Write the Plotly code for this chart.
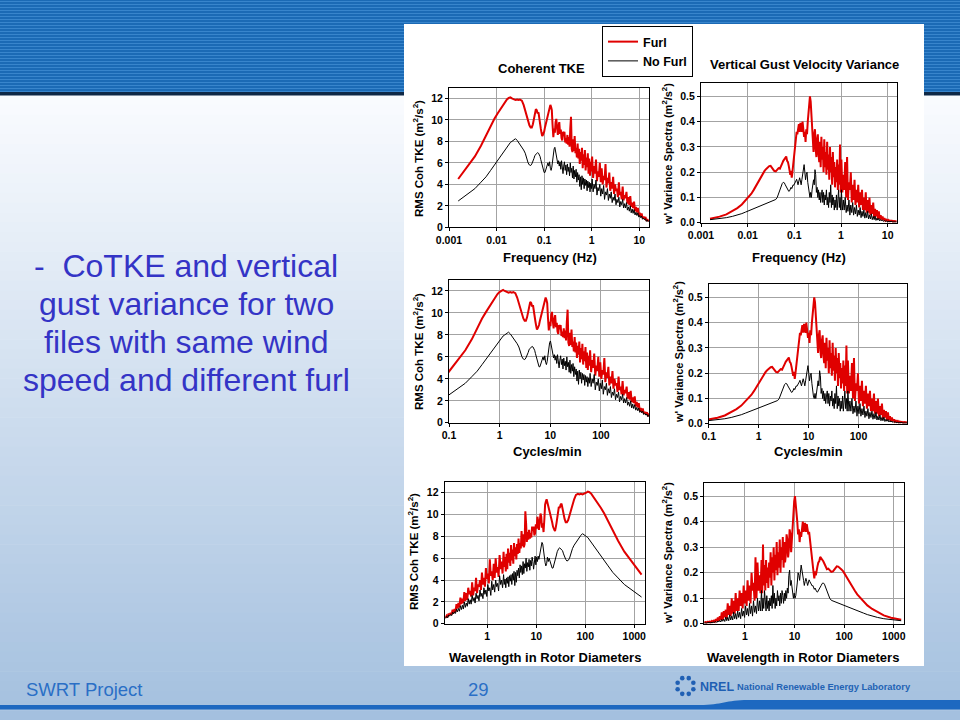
import math
import plotly.graph_objects as go

W, H = 960, 720
FONT = "Liberation Sans"

# ---------------- data ----------------
freq_hz = [
    0.00156, 0.0025, 0.0035, 0.0047, 0.006, 0.0075, 0.009, 0.0105, 0.012, 0.0135,
    0.015, 0.0165, 0.018, 0.0195, 0.021, 0.023, 0.025, 0.027, 0.029, 0.031,
    0.034, 0.037, 0.040, 0.043, 0.046, 0.049, 0.052, 0.055, 0.058, 0.061,
    0.064, 0.067, 0.070, 0.073, 0.076, 0.079, 0.082, 0.085, 0.088, 0.091,
    0.094, 0.097, 0.100,
    0.104, 0.108, 0.112, 0.116, 0.120, 0.125, 0.130, 0.135, 0.140, 0.145,
    0.150, 0.156, 0.162, 0.168, 0.174, 0.180, 0.187, 0.194, 0.201, 0.208,
    0.216, 0.224, 0.232, 0.240, 0.249, 0.258, 0.267, 0.277, 0.287, 0.297,
    0.308, 0.319, 0.330, 0.342, 0.354, 0.367, 0.380, 0.394, 0.408, 0.423,
    0.438, 0.454, 0.470, 0.487, 0.505, 0.523, 0.542, 0.561, 0.581, 0.602,
    0.624, 0.646, 0.669, 0.693, 0.718, 0.744, 0.771, 0.799, 0.827, 0.857,
    0.888, 0.920, 0.953, 0.987,
    1.02, 1.07, 1.12, 1.17, 1.23, 1.29, 1.35, 1.41, 1.48, 1.55,
    1.62, 1.70, 1.78, 1.86, 1.95, 2.04, 2.14, 2.24, 2.34, 2.45,
    2.57, 2.69, 2.82, 2.95, 3.09, 3.24, 3.39, 3.55, 3.72, 3.89,
    4.07, 4.27, 4.47, 4.68, 4.90, 5.13, 5.37, 5.62, 5.89, 6.17,
    6.46, 6.76, 7.08, 7.41, 7.76, 8.13, 8.51, 8.91, 9.33, 9.77,
    10.2, 10.7, 11.2, 11.7, 12.3, 12.9, 13.5, 14.1, 14.8, 15.5,
]

tke_furl = [
    4.5, 5.7, 6.6, 7.6, 8.6, 9.5, 10.1, 10.6, 11.0, 11.4,
    11.7, 11.9, 12.05, 12.1, 12.0, 11.95, 11.85, 11.9, 11.85, 11.9,
    11.8, 11.4, 10.9, 10.3, 9.8, 9.5, 9.3, 9.3, 9.6, 10.0,
    10.6, 11.0, 10.9, 10.6, 10.7, 10.3, 9.8, 9.2, 8.8, 8.5,
    8.6, 8.7, 8.9,
    9.3, 9.6, 10.0, 10.3, 10.7, 11.0, 11.3, 11.4, 11.2, 10.9,
    9.6, 8.4, 9.2, 8.8, 9.8, 10.1, 9.3, 8.6, 9.4, 9.8,
    8.7, 9.1, 8.3, 8.1, 8.9, 8.5, 8.9, 7.9, 8.3, 7.8,
    8.6, 7.7, 8.4, 7.5, 9.2, 10.3, 7.3, 7.0, 8.2, 7.1,
    8.5, 6.9, 7.4, 6.5, 7.8, 6.4, 7.3, 5.9, 7.0, 6.2,
    7.4, 5.5, 6.8, 5.8, 7.2, 5.3, 6.5, 5.6, 6.9, 5.0,
    6.4, 4.8, 6.1, 5.2,
    6.6, 4.6, 5.7, 5.0, 6.3, 4.3, 5.2, 4.7, 6.0, 4.2,
    5.5, 4.0, 4.8, 4.4, 5.9, 3.7, 4.6, 4.1, 5.1, 3.4,
    4.2, 3.6, 4.7, 3.1, 4.0, 3.4, 3.6, 2.8, 4.2, 3.0,
    3.3, 2.6, 3.8, 2.5, 3.0, 2.7, 3.3, 2.2, 2.8, 2.1,
    2.9, 1.9, 2.3, 1.8, 2.4, 1.5, 1.9, 1.4, 1.8, 1.1,
    1.35, 1.0, 1.3, 0.85, 1.0, 0.8, 0.95, 0.62, 0.75, 0.55,
]

tke_nofurl = [
    2.45, 3.1, 3.6, 4.2, 4.7, 5.3, 5.8, 6.2, 6.6, 7.0,
    7.25, 7.5, 7.7, 7.9, 8.0, 8.15, 8.25, 8.1, 7.9, 7.8,
    7.5, 7.2, 6.9, 6.4, 6.0, 5.8, 5.75, 5.9, 6.1, 6.4,
    6.7, 6.8, 6.9, 6.95, 6.9, 6.8, 6.6, 6.3, 6.0, 5.8,
    5.5, 5.25, 5.1,
    5.1, 5.3, 5.6, 5.8, 6.0, 5.7, 6.1, 5.5, 5.3, 5.6,
    6.2, 6.9, 7.3, 7.45, 7.0, 6.6, 6.3, 5.9, 6.2, 5.7,
    6.1, 5.4, 6.2, 5.6, 5.0, 5.7, 6.1, 5.3, 5.8, 4.9,
    5.9, 5.2, 5.6, 4.8, 6.0, 5.1, 5.5, 4.6, 5.7, 4.5,
    5.3, 4.7, 5.4, 4.2, 5.1, 4.4, 4.9, 3.8, 4.7, 3.5,
    4.8, 4.0, 4.6, 3.6, 4.5, 3.9, 4.4, 3.4, 4.3, 3.7,
    4.2, 3.3, 4.1, 3.6,
    4.5, 3.3, 4.0, 3.6, 4.4, 3.0, 3.7, 3.4, 4.0, 2.9,
    3.6, 3.1, 3.9, 2.6, 3.3, 3.0, 3.6, 2.5, 3.1, 2.7,
    3.3, 2.3, 2.8, 2.5, 3.1, 2.1, 2.6, 2.3, 2.8, 1.9,
    2.4, 2.1, 2.6, 1.8, 2.2, 1.8, 2.3, 1.6, 1.9, 1.5,
    2.0, 1.35, 1.7, 1.3, 1.65, 1.15, 1.4, 1.1, 1.35, 0.95,
    1.1, 0.9, 1.05, 0.75, 0.85, 0.7, 0.8, 0.55, 0.68, 0.5,
]

wvar_furl = [
    0.016, 0.024, 0.033, 0.045, 0.058, 0.072, 0.088, 0.1, 0.115, 0.13,
    0.145, 0.16, 0.172, 0.185, 0.195, 0.205, 0.213, 0.22, 0.224, 0.225,
    0.215, 0.205, 0.203, 0.21, 0.216, 0.214, 0.222, 0.235, 0.245, 0.25,
    0.258, 0.262, 0.245, 0.24, 0.225, 0.2, 0.19, 0.205, 0.178, 0.2,
    0.225, 0.24, 0.26,
    0.29, 0.33, 0.36, 0.35, 0.38, 0.39, 0.36, 0.395, 0.38, 0.36,
    0.40, 0.37, 0.34, 0.36, 0.32, 0.37, 0.35, 0.40, 0.43, 0.47,
    0.50, 0.48, 0.43, 0.38, 0.31, 0.28, 0.35, 0.37, 0.29, 0.26,
    0.33, 0.35, 0.27, 0.24, 0.32, 0.22, 0.34, 0.25, 0.30, 0.20,
    0.33, 0.22, 0.28, 0.19, 0.32, 0.21, 0.27, 0.17, 0.30, 0.20,
    0.26, 0.15, 0.28, 0.18, 0.24, 0.14, 0.22, 0.16, 0.25, 0.13,
    0.23, 0.15, 0.31, 0.12,
    0.25, 0.12, 0.19, 0.13, 0.24, 0.10, 0.26, 0.09, 0.16, 0.13,
    0.20, 0.08, 0.15, 0.09, 0.17, 0.07, 0.13, 0.08, 0.15, 0.06,
    0.12, 0.07, 0.13, 0.05, 0.10, 0.05, 0.12, 0.04, 0.09, 0.04,
    0.10, 0.03, 0.07, 0.035, 0.08, 0.02, 0.055, 0.025, 0.05, 0.015,
    0.045, 0.015, 0.03, 0.012, 0.025, 0.01, 0.018, 0.008, 0.012, 0.008,
    0.011, 0.006, 0.009, 0.006, 0.008, 0.005, 0.007, 0.005, 0.006, 0.005,
]

wvar_nofurl = [
    0.012, 0.016, 0.02, 0.025, 0.03, 0.036, 0.042, 0.047, 0.051, 0.055,
    0.058, 0.061, 0.064, 0.067, 0.07, 0.073, 0.076, 0.079, 0.081, 0.083,
    0.086, 0.089, 0.092, 0.1, 0.115, 0.13, 0.145, 0.155, 0.16, 0.158,
    0.15, 0.142, 0.135, 0.128, 0.124, 0.126, 0.133, 0.14, 0.135, 0.145,
    0.15, 0.148, 0.155,
    0.16, 0.165, 0.172, 0.16, 0.15, 0.165, 0.178, 0.165, 0.15, 0.17,
    0.19, 0.215, 0.23, 0.2, 0.17, 0.19, 0.2, 0.16, 0.13, 0.11,
    0.1, 0.12, 0.1, 0.13, 0.16, 0.17, 0.15, 0.21, 0.19, 0.12,
    0.14, 0.1, 0.13, 0.09, 0.12, 0.08, 0.11, 0.13, 0.08, 0.12,
    0.07, 0.11, 0.09, 0.13, 0.07, 0.10, 0.06, 0.12, 0.08, 0.15,
    0.06, 0.11, 0.07, 0.10, 0.05, 0.09, 0.06, 0.11, 0.05, 0.09,
    0.13, 0.06, 0.10, 0.05,
    0.13, 0.05, 0.09, 0.05, 0.10, 0.04, 0.07, 0.045, 0.09, 0.03,
    0.07, 0.04, 0.08, 0.03, 0.06, 0.035, 0.07, 0.025, 0.05, 0.03,
    0.06, 0.02, 0.045, 0.025, 0.05, 0.018, 0.04, 0.02, 0.045, 0.015,
    0.03, 0.015, 0.035, 0.012, 0.025, 0.012, 0.026, 0.009, 0.018, 0.01,
    0.017, 0.007, 0.013, 0.007, 0.011, 0.005, 0.009, 0.006, 0.007, 0.004,
    0.006, 0.004, 0.005, 0.003, 0.005, 0.003, 0.004, 0.003, 0.003, 0.003,
]

SERIES_NAMES = ["Furl", "No Furl"]

SECONDS_PER_MIN = 60.0
WIND_OVER_DIAMETER = 2.2   # U/D (1/s): wavelength in rotor diameters = (U/D)/f

cycles_per_min = [f * SECONDS_PER_MIN for f in freq_hz]
wavelength_d = [WIND_OVER_DIAMETER / f for f in freq_hz]

TKE_TICKS = [0, 2, 4, 6, 8, 10, 12]
W_TICKS = [0.0, 0.1, 0.2, 0.3, 0.4, 0.5]
W_TICK_TEXT = ["0.0", "0.1", "0.2", "0.3", "0.4", "0.5"]
HZ_TICKS = [0.001, 0.01, 0.1, 1, 10]
HZ_TICK_TEXT = ["0.001", "0.01", "0.1", "1", "10"]
CPM_TICKS = [0.1, 1, 10, 100]
CPM_TICK_TEXT = ["0.1", "1", "10", "100"]
WL_TICKS = [1, 10, 100, 1000]
WL_TICK_TEXT = ["1", "10", "100", "1000"]

TKE_TITLE = "RMS Coh TKE (m<sup>2</sup>/s<sup>2</sup>)"
W_TITLE = "w' Variance Spectra (m<sup>2</sup>/s<sup>2</sup>)"

# ---------------- helpers ----------------
def px(x):
    return x / W


def py(y):
    return 1 - y / H


RED = "#e00000"
BLACK = "#000000"
BOLD = dict(family=FONT, color="black", weight="bold")

XSETS = {
    "hz": (freq_hz, HZ_TICKS, HZ_TICK_TEXT, "Frequency (Hz)"),
    "cpm": (cycles_per_min, CPM_TICKS, CPM_TICK_TEXT, "Cycles/min"),
    "wl": (wavelength_d, WL_TICKS, WL_TICK_TEXT, "Wavelength in Rotor Diameters"),
}
QSETS = {
    "tke": (tke_furl, tke_nofurl, TKE_TICKS, [str(t) for t in TKE_TICKS], 13, TKE_TITLE, 11.5),
    "w": (wvar_furl, wvar_nofurl, W_TICKS, W_TICK_TEXT, 0.552, W_TITLE, 11),
}

PANELS = [
    dict(x="hz", q="tke", xd=(449, 649), yd=(87.7, 227.3), xr=(-3.0, 1.204),
         xt=(550, 257), yt=(418, 159)),
    dict(x="hz", q="w", xd=(701, 897), yd=(83.3, 222.7), xr=(-3.0, 1.2),
         xt=(799, 257), yt=(667, 154)),
    dict(x="cpm", q="tke", xd=(449, 649), yd=(280, 422.8), xr=(-1.0, 2.95),
         xt=(547, 451), yt=(418, 352)),
    dict(x="cpm", q="w", xd=(708.7, 907), yd=(284.2, 423.8), xr=(-1.0, 2.97),
         xt=(808, 451), yt=(678, 352)),
    dict(x="wl", q="tke", xd=(444.6, 645), yd=(481.8, 623.8), xr=(-0.87, 3.22),
         xt=(545, 657), yt=(413, 552)),
    dict(x="wl", q="w", xd=(704.3, 903.7), yd=(482.8, 623.8), xr=(-0.82, 3.2),
         xt=(803, 657), yt=(667, 553)),
]

fig = go.Figure()
layout = dict(
    width=W, height=H,
    margin=dict(l=0, r=0, t=0, b=0, pad=0, autoexpand=False),
    paper_bgcolor="white", plot_bgcolor="white",
    showlegend=True,
    legend=dict(
        x=px(602), y=py(26), xanchor="left", yanchor="top",
        bgcolor="white", bordercolor="black", borderwidth=1,
        font=dict(family=FONT, size=12.5, color="black", weight="bold"),
        itemwidth=30, tracegroupgap=0,
    ),
)
annotations = []

for i, p in enumerate(PANELS, start=1):
    xs, xticks, xtext, xtitle = XSETS[p["x"]]
    yf, yn, yticks, ytext, ytop, ytitle, ysize = QSETS[p["q"]]
    sfx = "" if i == 1 else str(i)
    fig.add_trace(go.Scatter(
        x=xs, y=yf, mode="lines", name=SERIES_NAMES[0],
        line=dict(color=RED, width=2), xaxis="x" + sfx, yaxis="y" + sfx,
        showlegend=(i == 1), legendrank=1, hoverinfo="skip"))
    fig.add_trace(go.Scatter(
        x=xs, y=yn, mode="lines", name=SERIES_NAMES[1],
        line=dict(color=BLACK, width=1), xaxis="x" + sfx, yaxis="y" + sfx,
        showlegend=(i == 1), legendrank=2, hoverinfo="skip"))
    common = dict(
        showgrid=True, gridcolor="#a3a3a3", gridwidth=1,
        showline=True, linecolor="black", linewidth=1, mirror=True,
        ticks="outside", ticklen=3, tickcolor="black", zeroline=False,
        tickfont=dict(family=FONT, size=10.5, color="black", weight="bold"),
        fixedrange=True, tickmode="array", automargin=False,
    )
    layout["xaxis" + sfx] = dict(
        common, type="log", range=list(p["xr"]),
        domain=[px(p["xd"][0]), px(p["xd"][1])], anchor="y" + sfx,
        tickvals=xticks, ticktext=xtext)
    layout["yaxis" + sfx] = dict(
        common, range=[0, ytop],
        domain=[py(p["yd"][1]), py(p["yd"][0])], anchor="x" + sfx,
        tickvals=yticks, ticktext=ytext)
    annotations.append(dict(
        text=xtitle, x=px(p["xt"][0]), y=py(p["xt"][1]),
        xref="paper", yref="paper", showarrow=False,
        xanchor="center", yanchor="middle",
        font=dict(BOLD, size=13)))
    annotations.append(dict(
        text=ytitle, x=px(p["yt"][0]), y=py(p["yt"][1]),
        xref="paper", yref="paper", showarrow=False, textangle=-90,
        xanchor="center", yanchor="middle",
        font=dict(BOLD, size=ysize)))

# chart titles
annotations.append(dict(text="Coherent TKE", x=px(541), y=py(68), xref="paper",
                        yref="paper", showarrow=False, xanchor="center",
                        yanchor="middle", font=dict(BOLD, size=13)))
annotations.append(dict(text="Vertical Gust Velocity Variance", x=px(804), y=py(64),
                        xref="paper", yref="paper", showarrow=False,
                        xanchor="center", yanchor="middle",
                        font=dict(BOLD, size=13)))

# slide text
TEXT_BLUE = "#3434c6"
slide_lines = ["-&nbsp; CoTKE and vertical", "gust variance for two",
               "files with same wind", "speed and different furl"]
for k, line in enumerate(slide_lines):
    annotations.append(dict(text=line, x=px(186), y=py(266 + 38 * k), xref="paper",
                            yref="paper", showarrow=False, xanchor="center",
                            yanchor="middle",
                            font=dict(family=FONT, size=32, color=TEXT_BLUE)))

FOOT_BLUE = "#2a6fc6"
annotations.append(dict(text="SWRT Project", x=px(24), y=py(689), xref="paper",
                        yref="paper", showarrow=False, xanchor="left", yanchor="middle",
                        font=dict(family=FONT, size=18.5, color=FOOT_BLUE)))
annotations.append(dict(text="29", x=px(478), y=py(689), xref="paper", yref="paper",
                        showarrow=False, xanchor="center", yanchor="middle",
                        font=dict(family=FONT, size=18.5, color=FOOT_BLUE)))
annotations.append(dict(text="NREL", x=px(698), y=py(687), xref="paper", yref="paper",
                        showarrow=False, xanchor="left", yanchor="middle",
                        font=dict(family=FONT, size=12.5, color="#1f5fb3", weight="bold")))
annotations.append(dict(text="National Renewable Energy Laboratory", x=px(735), y=py(687),
                        xref="paper", yref="paper", showarrow=False, xanchor="left",
                        yanchor="middle",
                        font=dict(family=FONT, size=9.3, color="#2262b4", weight="bold")))

# ---------------- slide decoration (shapes) ----------------
shapes = []


def rect(x0, y0, x1, y1, color):
    shapes.append(dict(type="rect", xref="paper", yref="paper", layer="below",
                       x0=px(x0), x1=px(x1), y0=py(y1), y1=py(y0),
                       fillcolor=color, line=dict(width=0)))


# background gradient (white -> light blue)
top_c, bot_c = (249, 251, 254), (164, 192, 223)
n_strips = 64
g0, g1 = 95, 720
for s in range(n_strips):
    t = s / (n_strips - 1)
    c = tuple(round(top_c[j] + (bot_c[j] - top_c[j]) * t) for j in range(3))
    y0 = g0 + (g1 - g0) * s / n_strips
    y1 = g0 + (g1 - g0) * (s + 1) / n_strips + 0.6
    rect(0, y0, W, y1, "rgb(%d,%d,%d)" % c)

# top striped band
rect(0, 0, W, 92, "rgb(27,106,181)")
for yy in range(1, 92, 3):
    rect(0, yy, W, yy + 1, "rgb(56,133,204)")
rect(0, 92, W, 95.5, "#0e2846")

# white chart panel
rect(404, 24, 924, 666, "white")


# bottom rule with swoosh
def P(x, y):
    return "%.5f,%.5f" % (px(x), py(y))


shapes.append(dict(
    type="path", xref="paper", yref="paper", layer="below",
    path="M %s L %s C %s %s %s L %s L %s L %s Z" % (
        P(0, 705), P(700, 705), P(722, 705), P(726, 700), P(748, 700),
        P(W, 700), P(W, 709.5), P(0, 709.5)),
    fillcolor="#1d68c0", line=dict(width=0)))

# NREL emblem: ring of small dots
cx, cy, r = 685.5, 686, 8.5
for k in range(8):
    a = 2 * math.pi * k / 8 + math.pi / 8
    dx, dy = cx + r * math.cos(a), cy + r * math.sin(a)
    rr = 2.3
    shapes.append(dict(type="circle", xref="paper", yref="paper", layer="above",
                       x0=px(dx - rr), x1=px(dx + rr), y0=py(dy + rr), y1=py(dy - rr),
                       fillcolor="#2060b4", line=dict(width=0)))

layout["shapes"] = shapes
layout["annotations"] = annotations
fig.update_layout(**layout)

PAGE_FIX = ("document.documentElement.style.margin='0';"
            "document.documentElement.style.overflow='hidden';"
            "document.body.style.margin='0';document.body.style.padding='0';"
            "document.body.style.overflow='hidden';")
fig.write_html("out.html", config={"displayModeBar": False}, post_script=PAGE_FIX)
